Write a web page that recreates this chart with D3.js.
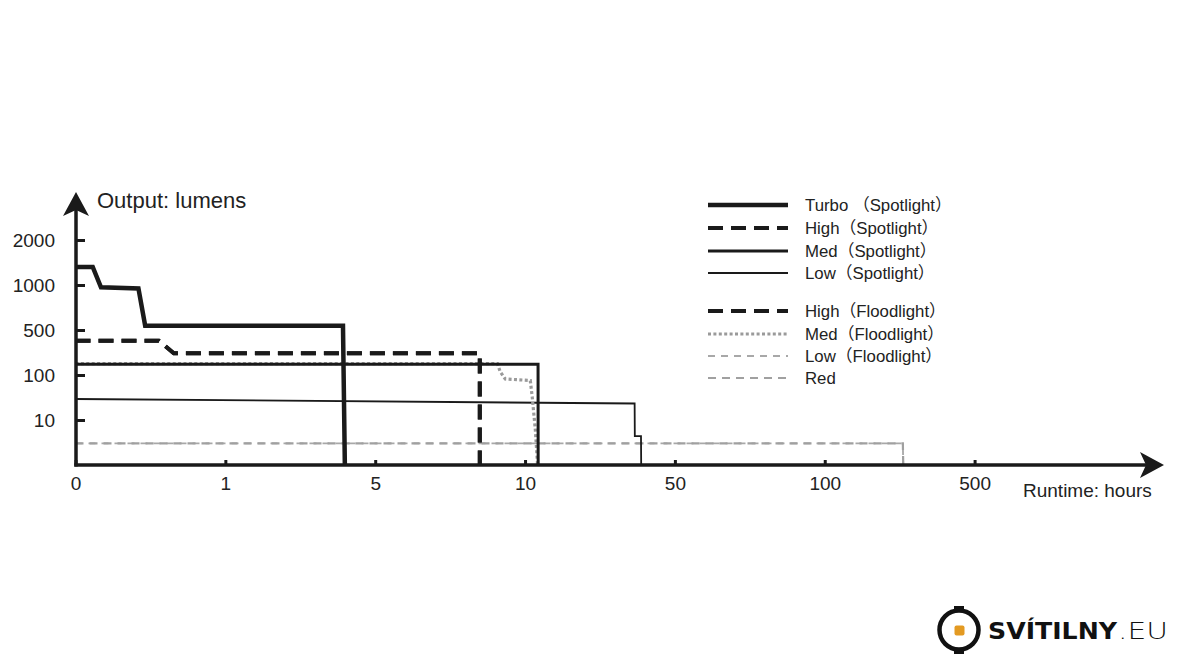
<!DOCTYPE html>
<html>
<head>
<meta charset="utf-8">
<script src="https://cdn.jsdelivr.net/npm/d3@7"></script>
<style>
  html, body { margin: 0; padding: 0; background: #fff; }
  svg { display: block; }
  text { font-family: "Liberation Sans", Arial, Helvetica, "Noto Sans CJK SC", sans-serif; fill: #222; }
</style>
</head>
<body>
<svg id="chart" width="1180" height="660"></svg>
<script>
// ---------- data (hours, lumens) ----------
const xTickValues = [0, 1, 5, 10, 50, 100, 500];
const xTickLabels = ["0", "1", "5", "10", "50", "100", "500"];
const yTickValues = [10, 100, 500, 1000, 2000];
const yTickLabels = ["10", "100", "500", "1000", "2000"];

const turboSpot = [[0, 1400], [0.115, 1400], [0.17, 975], [0.42, 962], [0.465, 548], [4.14, 548], [4.19, 0]];
const highSpot  = [[0, 405], [0.556, 405], [0.656, 293], [8.41, 293], [8.49, 293], [8.49, 0]];
const medSpot   = [[0, 195], [13.47, 195], [13.5, 0]];
const lowSpot   = [[0, 52], [39.25, 43], [39.3, 6.4], [40.95, 6.4], [41.0, 0]];
const highFlood = [[0, 405], [0.556, 405], [0.656, 293], [8.41, 293], [8.49, 293], [8.49, 0]];
const medFlood  = [[0, 202], [9.08, 202], [9.17, 130], [9.34, 92], [11.4, 89], [11.9, 57], [12.75, 7.8], [13.35, 0]];
const lowFlood  = [[0, 4.8], [308.5, 4.8], [309.5, 0]];
const redLight  = [[0, 4.8], [308.5, 4.8], [309.5, 0]];

const seriesNames = ["Turbo （Spotlight）", "High（Spotlight）", "Med（Spotlight）", "Low（Spotlight）",
                     "High（Floodlight）", "Med（Floodlight）", "Low（Floodlight）", "Red"];
const seriesData = [turboSpot, highSpot, medSpot, lowSpot, highFlood, medFlood, lowFlood, redLight];

// ---------- styles ----------
const styles = [
  { color: "#1a1a1a", width: 4.5, dash: null },
  { color: "#1a1a1a", width: 4,   dash: "15,8" },
  { color: "#1a1a1a", width: 3,   dash: null },
  { color: "#1a1a1a", width: 1.8, dash: null },
  { color: "#1a1a1a", width: 4,   dash: "15,8" },
  { color: "#9a9a9a", width: 3.2, dash: "3,2.4" },
  { color: "#a8a8a8", width: 1.8, dash: "7,6" },
  { color: "#a0a0a0", width: 2.2, dash: "8,6" }
];
const legendY = [205, 228, 251, 273, 311, 334, 356, 378];

const svg = d3.select("#chart");

// Piecewise (poly-linear) scales matching the non-uniform axis
const x = d3.scaleLinear()
  .domain(xTickValues)
  .range(xTickValues.map((d, i) => 75.5 + i * 149.85));
const y = d3.scaleLinear()
  .domain([0, 10, 100, 500, 1000, 2000])
  .range([465, 420, 375, 330, 285, 240]);

const AX = "#1a1a1a";

// ---------- series ----------
const line = d3.line().x(d => x(d[0])).y(d => y(d[1]));
const drawOrder = [6, 7, 3, 5, 2, 4, 1, 0];
drawOrder.forEach(i => {
  const s = styles[i];
  svg.append("path")
    .attr("d", line(seriesData[i]))
    .attr("fill", "none")
    .attr("stroke", s.color)
    .attr("stroke-width", s.width)
    .attr("stroke-dasharray", s.dash)
    .attr("stroke-linejoin", "miter");
});

// ---------- axes ----------
const yAxis = d3.axisLeft(y)
  .tickValues(yTickValues)
  .tickFormat((d, i) => yTickLabels[i])
  .tickSizeInner(-9)
  .tickSizeOuter(0)
  .tickPadding(21);
const gy = svg.append("g").attr("transform", "translate(76,0)").call(yAxis);
gy.select(".domain").remove();
gy.selectAll(".tick line").attr("stroke", AX).attr("stroke-width", 3);
gy.selectAll(".tick text").attr("font-size", 19).attr("fill", "#222")
  .attr("font-family", "Liberation Sans, Arial, sans-serif");

const xAxis = d3.axisBottom(x)
  .tickValues(xTickValues)
  .tickFormat((d, i) => xTickLabels[i])
  .tickSizeInner(-5)
  .tickSizeOuter(0)
  .tickPadding(12);
const gx = svg.append("g").attr("transform", "translate(0,465)").call(xAxis);
gx.select(".domain").remove();
gx.selectAll(".tick line").attr("stroke", AX).attr("stroke-width", 3);
gx.selectAll(".tick text").attr("font-size", 19).attr("fill", "#222")
  .attr("font-family", "Liberation Sans, Arial, sans-serif");

// axis lines with arrows
svg.append("line").attr("x1", 76).attr("y1", 466.5).attr("x2", 76).attr("y2", 205)
  .attr("stroke", AX).attr("stroke-width", 3.5);
svg.append("path").attr("d", "M76,192 L89,216 L76,210 L63,216 Z").attr("fill", AX);
svg.append("line").attr("x1", 74.3).attr("y1", 465).attr("x2", 1150).attr("y2", 465)
  .attr("stroke", AX).attr("stroke-width", 3.5);
svg.append("path").attr("d", "M1164,465 L1140,478 L1146,465 L1140,452 Z").attr("fill", AX);

// axis titles
svg.append("text").attr("x", 97).attr("y", 208).attr("font-size", 22).text("Output: lumens");
svg.append("text").attr("x", 1023).attr("y", 497).attr("font-size", 19).text("Runtime: hours");

// ---------- legend ----------
const lg = svg.append("g");
seriesNames.forEach((name, i) => {
  const s = styles[i];
  lg.append("line")
    .attr("x1", 708).attr("x2", 788)
    .attr("y1", legendY[i]).attr("y2", legendY[i])
    .attr("stroke", s.color)
    .attr("stroke-width", s.width)
    .attr("stroke-dasharray", s.dash);
  lg.append("text")
    .attr("x", 805).attr("y", legendY[i] + 6)
    .attr("font-size", 16.8)
    .text(name);
});

// ---------- logo ----------
const logo = svg.append("g");
logo.append("circle").attr("cx", 959).attr("cy", 630).attr("r", 19.5)
  .attr("fill", "none").attr("stroke", "#111").attr("stroke-width", 4.5);
logo.append("rect").attr("x", 954).attr("y", 606).attr("width", 10).attr("height", 5).attr("fill", "#111");
logo.append("rect").attr("x", 954).attr("y", 649).attr("width", 10).attr("height", 5).attr("fill", "#111");
logo.append("rect").attr("x", 954.5).attr("y", 625.5).attr("width", 10).attr("height", 10)
  .attr("rx", 2).attr("fill", "#E39A22");
logo.append("text").attr("x", 988).attr("y", 639)
  .style("font-family", "'DejaVu Sans', sans-serif").style("font-weight", 700)
  .attr("font-size", 23.5).style("fill", "#111")
  .attr("textLength", 129).attr("lengthAdjust", "spacingAndGlyphs")
  .text("SVÍTILNY");
logo.append("text").attr("x", 1118).attr("y", 639)
  .style("font-family", "'DejaVu Sans', sans-serif").style("font-weight", 200)
  .attr("font-size", 23.5).style("fill", "#111")
  .attr("textLength", 50).attr("lengthAdjust", "spacingAndGlyphs")
  .text(".EU");
</script>
</body>
</html>
